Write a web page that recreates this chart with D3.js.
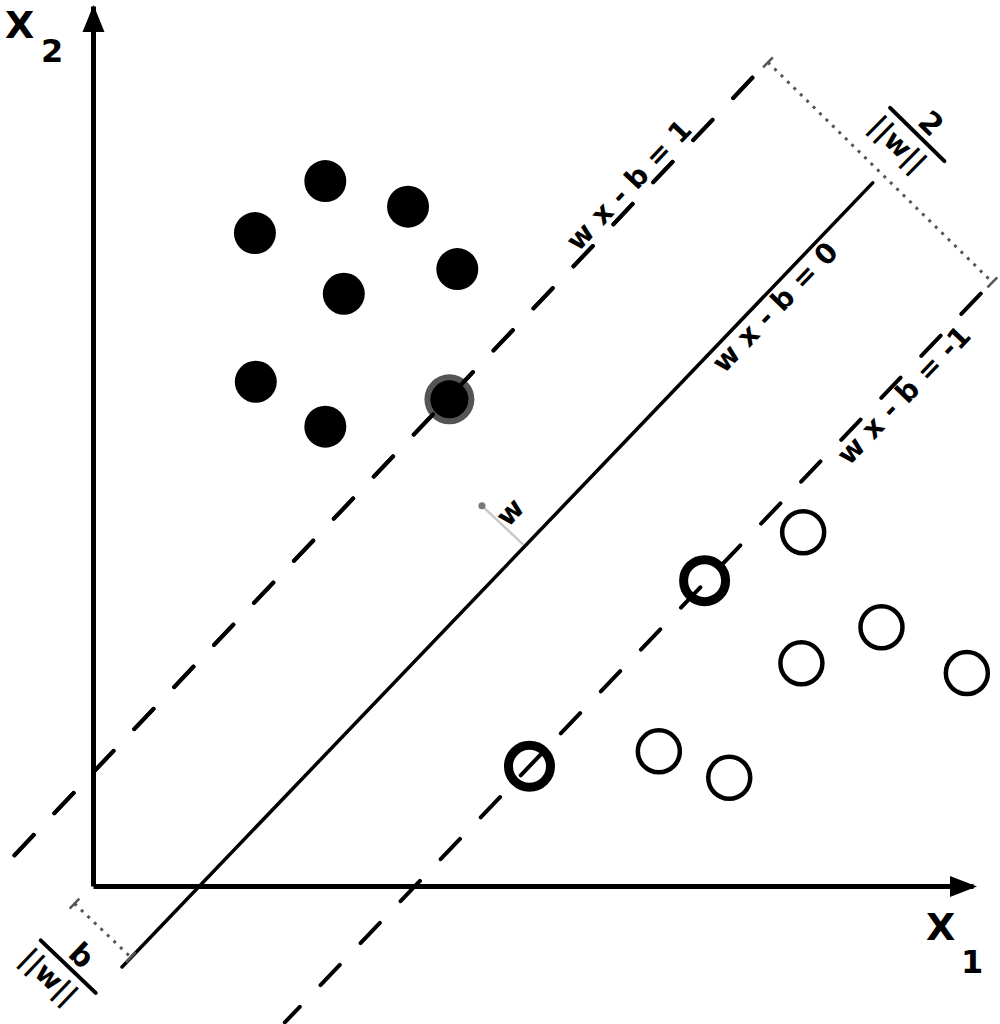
<!DOCTYPE html>
<html>
<head>
<meta charset="utf-8">
<script src="https://cdn.jsdelivr.net/npm/d3@7"></script>
<style>
  body { margin: 0; background: #fff; }
  svg { display: block; }
  text { font-family: "DejaVu Sans", sans-serif; font-weight: bold; fill: #000; }
</style>
</head>
<body>
<svg id="chart"></svg>
<script>
// class +1 (filled) and class -1 (hollow), in plot units [x1, x2]
const positives = [[2.64, 8.01], [3.58, 7.72], [1.84, 7.42], [4.14, 7.01], [2.85, 6.73], [1.85, 5.73], [2.64, 5.22]];
const positiveSupport = [[4.05, 5.53]];
const negatives = [[8.07, 4.02], [8.96, 2.94], [8.05, 2.53], [9.93, 2.42], [6.43, 1.53], [7.23, 1.23]];
const negativeSupport = [[6.95, 3.47], [4.96, 1.36]];

// the three hyperplanes w.x - b = c
const planeLabels = ["w x - b = 1", "w x - b = 0", "w x - b = -1"];
const planeStarts = [[-0.92, 0.32], [0.33, -0.92], [2.18, -1.55]];
const planeEnds = [[7.65, 9.35], [8.86, 7.99], [10.23, 6.88]];

// measuring segments: margin 2/||w|| and offset b/||w||
const fractionTops = ["2", "b"];
const fractionBottoms = ["||w||", "||w||"];
const segmentStarts = [[7.67, 9.36], [-0.21, -0.2]];
const segmentEnds = [[10.22, 6.86], [0.43, -0.81]];

// normal vector w, drawn from the middle hyperplane
const wVector = [[4.89, 3.88], [4.42, 4.32]];

const axisLabels = ["X", "X"];
const axisSubs = ["1", "2"];

const width = 1000;
const height = 1024;

const x = d3.scaleLinear().domain([0, 10]).range([93, 973]);
const y = d3.scaleLinear().domain([0, 10]).range([886, 6]);

const svg = d3.select("#chart").attr("width", width).attr("height", height);

const px = (d) => [x(d[0]), y(d[1])];
const line = d3.line().x((d) => x(d[0])).y((d) => y(d[1]));

// axes
svg.append("g")
  .attr("class", "axis x")
  .attr("transform", `translate(0, ${y(0)})`)
  .call(d3.axisBottom(x).tickValues([]).tickSizeOuter(0))
  .select(".domain").attr("stroke-width", 5);

svg.append("g")
  .attr("class", "axis y")
  .attr("transform", `translate(${x(0)}, 0)`)
  .call(d3.axisLeft(y).tickValues([]).tickSizeOuter(0))
  .select(".domain").attr("stroke-width", 5);

// arrow heads
const xe = x(10), ye = y(10);
svg.append("path")
  .attr("d", `M${xe + 4},${y(0) + 0.5}L${xe - 23},${y(0) - 10}L${xe - 23},${y(0) + 11}Z`)
  .attr("fill", "#000");
svg.append("path")
  .attr("d", `M${x(0) + 0.5},${ye - 1}L${x(0) - 10.5},${ye + 26}L${x(0) + 11.5},${ye + 26}Z`)
  .attr("fill", "#000");

// axis labels
const axisPos = [[926, 940, 961, 973], [5, 38, 41, 62]];
axisLabels.forEach((t, i) => {
  const a = axisPos[i];
  const txt = svg.append("text").attr("font-size", 38);
  txt.append("tspan").attr("x", a[0]).attr("y", a[1]).text(t);
  txt.append("tspan").attr("x", a[2]).attr("y", a[3]).attr("font-size", 32).text(axisSubs[i]);
});

// hyperplanes
const dashOffsets = [54.5, 0, 6.4];
planeStarts.forEach((s, i) => {
  svg.append("path")
    .attr("d", line([s, planeEnds[i]]))
    .attr("fill", "none")
    .attr("stroke", "#000")
    .attr("stroke-width", i === 1 ? 3.5 : 4)
    .attr("stroke-dasharray", i === 1 ? null : "28,30")
    .attr("stroke-dashoffset", dashOffsets[i])
    .attr("stroke-linecap", "round");
});

// w vector
svg.append("path")
  .attr("d", line(wVector))
  .attr("stroke", "#c8c8c8")
  .attr("stroke-width", 2.5);
svg.append("circle")
  .attr("cx", x(wVector[1][0]))
  .attr("cy", y(wVector[1][1]))
  .attr("r", 3.5)
  .attr("fill", "#777");
{
  const p = px(planeStarts[1]), q = px(planeEnds[1]);
  const ang = Math.atan2(q[1] - p[1], q[0] - p[0]) * 180 / Math.PI;
  const t = px(wVector[1]);
  svg.append("text")
    .attr("transform", `translate(${t[0] + 29}, ${t[1] + 7}) rotate(${ang})`)
    .attr("text-anchor", "middle")
    .attr("dy", "0.3em")
    .attr("font-size", 28)
    .text("w");
}

// points
svg.append("g").selectAll("circle")
  .data(positives)
  .join("circle")
  .attr("cx", (d) => x(d[0]))
  .attr("cy", (d) => y(d[1]))
  .attr("r", 21)
  .attr("fill", "#000");

const sv = svg.append("g").selectAll("g").data(positiveSupport).join("g");
sv.append("circle")
  .attr("cx", (d) => x(d[0])).attr("cy", (d) => y(d[1]))
  .attr("r", 25).attr("fill", "#555");
sv.append("circle")
  .attr("cx", (d) => x(d[0])).attr("cy", (d) => y(d[1]))
  .attr("r", 19).attr("fill", "#000");

svg.append("g").selectAll("circle")
  .data(negatives)
  .join("circle")
  .attr("cx", (d) => x(d[0]))
  .attr("cy", (d) => y(d[1]))
  .attr("r", 21)
  .attr("fill", "none")
  .attr("stroke", "#000")
  .attr("stroke-width", 4.5);

svg.append("g").selectAll("circle")
  .data(negativeSupport)
  .join("circle")
  .attr("cx", (d) => x(d[0]))
  .attr("cy", (d) => y(d[1]))
  .attr("r", 21)
  .attr("fill", "none")
  .attr("stroke", "#000")
  .attr("stroke-width", 9);

// redraw the margin line through the filled support vector
svg.append("path")
  .attr("d", line([planeStarts[0], planeEnds[0]]))
  .attr("fill", "none")
  .attr("stroke", "#000")
  .attr("stroke-width", 4)
  .attr("stroke-dasharray", "28,30")
  .attr("stroke-dashoffset", dashOffsets[0])
  .attr("stroke-linecap", "round");

// plane labels
const labelT = [0.833, 0.855, 0.859];
const labelShift = [-6, 25, 24];
planeLabels.forEach((lab, i) => {
  const p = px(planeStarts[i]), q = px(planeEnds[i]);
  const ang = Math.atan2(q[1] - p[1], q[0] - p[0]) * 180 / Math.PI;
  const cx = p[0] + (q[0] - p[0]) * labelT[i];
  const cy = p[1] + (q[1] - p[1]) * labelT[i];
  svg.append("text")
    .attr("transform", `translate(${cx}, ${cy}) rotate(${ang})`)
    .attr("text-anchor", "middle")
    .attr("y", labelShift[i])
    .attr("font-size", 28)
    .text(lab);
});

// measuring segments with fractions
const fracShift = [-53, 50];
segmentStarts.forEach((s, i) => {
  const p = px(s), q = px(segmentEnds[i]);
  const ang = Math.atan2(q[1] - p[1], q[0] - p[0]) * 180 / Math.PI;
  const len = Math.hypot(q[0] - p[0], q[1] - p[1]);
  const g = svg.append("g").attr("transform", `translate(${p[0]}, ${p[1]}) rotate(${ang})`);
  g.append("line")
    .attr("x1", 0).attr("x2", len)
    .attr("stroke", "#555")
    .attr("stroke-width", 3)
    .attr("stroke-dasharray", "3,6");
  [0, len].forEach((e) => {
    g.append("line")
      .attr("x1", e).attr("x2", e).attr("y1", -7).attr("y2", 7)
      .attr("stroke", "#555").attr("stroke-width", 2.5);
  });
  const f = g.append("g").attr("transform", `translate(${len / 2}, ${fracShift[i]})`);
  f.append("line")
    .attr("x1", -38).attr("x2", 38)
    .attr("stroke", "#000").attr("stroke-width", 4)
    .attr("stroke-linecap", "round");
  f.append("text")
    .attr("x", 2).attr("y", -7)
    .attr("text-anchor", "middle")
    .attr("font-size", 30)
    .text(fractionTops[i]);
  f.append("text")
    .attr("x", -7).attr("y", 30)
    .attr("text-anchor", "middle")
    .attr("font-size", 28)
    .text(fractionBottoms[i]);
});
</script>
</body>
</html>
